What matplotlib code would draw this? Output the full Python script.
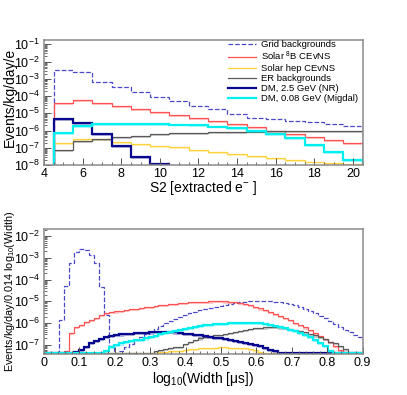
import numpy as np
import matplotlib
matplotlib.use("Agg")
import matplotlib.pyplot as plt
from matplotlib.lines import Line2D
from matplotlib.ticker import MultipleLocator, LogLocator, NullFormatter

plt.rcParams["font.family"] = ["Liberation Sans", "DejaVu Sans"]
plt.rcParams["mathtext.fontset"] = "custom"
plt.rcParams["mathtext.rm"] = "Liberation Sans"
plt.rcParams["mathtext.it"] = "Liberation Sans:italic"
plt.rcParams["mathtext.bf"] = "Liberation Sans:bold"

# ---- top panel: S2 spectrum, 1 e- bins from 4.5 to 20.5 ----
s2_edges = np.arange(4.5, 21.0, 1.0)
s2_grid = [3.2e-3, 2.5e-3, 6.8e-4, 3.2e-4, 1.7e-4, 8.5e-5, 5.3e-5, 2.6e-5,
           1.7e-5, 9.3e-6, 5.6e-6, 4.6e-6, 3.6e-6, 3.0e-6, 2.3e-6, 1.85e-6]
s2_b8 = [3.8e-5, 5.9e-5, 4.0e-5, 2.7e-5, 1.85e-5, 1.25e-5, 8.1e-6, 5.5e-6,
         3.5e-6, 2.3e-6, 1.55e-6, 1.0e-6, 6.5e-7, 4.4e-7, 2.8e-7, 1.8e-7]
s2_hep = [1.8e-7, 3.2e-7, 3.4e-7, 2.1e-7, 1.6e-7, 1.25e-7, 1.05e-7, 7.5e-8,
          5.9e-8, 4.4e-8, 3.4e-8, 2.5e-8, 2.0e-8, 1.6e-8, 1.35e-8, 1.15e-8]
s2_er = [7.4e-8, 2.5e-7, 3.2e-7, 4.1e-7, 4.9e-7, 6.0e-7, 6.8e-7, 7.5e-7,
         8.0e-7, 8.5e-7, 8.8e-7, 9.0e-7, 9.0e-7, 9.0e-7, 9.0e-7, 9.0e-7]
s2_nr = [4.6e-6, 2.6e-6, 6.0e-7, 1.3e-7, 2.8e-8, 1.2e-8, 0, 0,
         0, 0, 0, 0, 0, 0, 0, 0]
s2_migdal = [6.9e-7, 1.9e-6, 2.3e-6, 2.4e-6, 2.4e-6, 2.3e-6, 2.25e-6, 2.1e-6,
             1.7e-6, 1.35e-6, 9.5e-7, 6.0e-7, 3.5e-7, 1.4e-7, 5.9e-8, 2.0e-8]

# ---- bottom panel: log10(width), 64 bins from 0 to 0.9 ----
w_edges = np.linspace(0.0, 0.9, 65)
w_grid = [0, 0, 0, 1.4e-6, 5e-5, 6e-4, 1.9e-3, 2.5e-3,
          2.4e-3, 1.3e-3, 5.6e-4, 4.7e-5, 2.4e-6, 9e-8, 0, 5e-8,
          8e-8, 1.1e-7, 1.6e-7, 2.2e-7, 3e-7, 4e-7, 5.5e-7, 7.5e-7,
          1e-6, 1.3e-6, 1.6e-6, 2e-6, 2.4e-6, 2.8e-6, 3.3e-6, 3.8e-6,
          4.4e-6, 5e-6, 5.6e-6, 6.3e-6, 7e-6, 7.8e-6, 8.5e-6, 9.2e-6,
          9.8e-6, 1.04e-5, 1.05e-5, 1.05e-5, 1.05e-5, 1.02e-5, 9.8e-6, 9.2e-6,
          8.5e-6, 7.6e-6, 6.6e-6, 5.5e-6, 4.6e-6, 3.7e-6, 2.9e-6, 2.2e-6,
          1.7e-6, 1.25e-6, 9e-7, 6.5e-7, 5e-7, 3.8e-7, 2.9e-7, 2.2e-7]
w_b8 = [0, 0, 0, 0, 5e-8, 3.5e-7, 6.5e-7, 8.3e-7,
        1.1e-6, 1.4e-6, 1.8e-6, 2.4e-6, 2.8e-6, 3.1e-6, 3.4e-6, 3.7e-6,
        4.0e-6, 4.3e-6, 4.6e-6, 4.9e-6, 5.3e-6, 5.7e-6, 6.1e-6, 6.5e-6,
        7.0e-6, 7.5e-6, 7.8e-6, 8.1e-6, 8.8e-6, 9.1e-6, 9.4e-6, 9.6e-6,
        9.8e-6, 9.9e-6, 1e-5, 1e-5, 9.9e-6, 9.7e-6, 9.2e-6, 8.5e-6,
        7.6e-6, 6.6e-6, 5.6e-6, 4.7e-6, 3.9e-6, 3.2e-6, 2.6e-6, 2.1e-6,
        1.7e-6, 1.35e-6, 1.05e-6, 8.3e-7, 6.3e-7, 4.8e-7, 3.5e-7, 2.6e-7,
        1.8e-7, 1.3e-7, 9e-8, 6e-8, 4.5e-8, 0, 0, 0]
w_hep = [0] * 21 + [
        4.1e-8, 4.3e-8, 4.6e-8, 4.9e-8, 5.1e-8, 5.3e-8, 5.3e-8,
        5.9e-8, 6.3e-8, 6.6e-8, 6.9e-8, 7.2e-8, 7.4e-8, 7.5e-8, 7.6e-8,
        7.6e-8, 7.5e-8, 7.4e-8, 7.2e-8, 6.9e-8, 6.2e-8, 5.5e-8, 4.9e-8,
        4.4e-8, 4.1e-8] + [0] * 18
w_er = [0] * 21 + [
        4.2e-8, 5e-8, 5.8e-8, 6.6e-8, 7e-8, 7.6e-8, 8.3e-8,
        1.05e-7, 1.35e-7, 1.7e-7, 1.95e-7, 2.2e-7, 2.5e-7, 2.7e-7, 2.9e-7,
        3.2e-7, 3.6e-7, 4e-7, 4.4e-7, 5e-7, 5.5e-7, 5.8e-7, 6e-7,
        6.3e-7, 6.5e-7, 6.5e-7, 6.3e-7, 6e-7, 5.5e-7, 4.9e-7, 4.4e-7,
        3.8e-7, 3.2e-7, 2.7e-7, 2.3e-7, 1.8e-7, 1.4e-7, 1.2e-7, 9e-8,
        6.6e-8, 4.2e-8] + [0] * 2
w_nr = [0] * 6 + [
        4.5e-8, 5.9e-8,
        8.3e-8, 1.2e-7, 1.5e-7, 1.8e-7, 2.2e-7, 2.6e-7, 2.8e-7, 3e-7,
        3.15e-7, 3.3e-7, 3.4e-7, 3.5e-7, 3.6e-7, 3.7e-7, 3.75e-7, 3.8e-7,
        3.8e-7, 3.8e-7, 3.7e-7, 3.5e-7, 3.3e-7, 3.1e-7, 2.9e-7, 2.7e-7,
        2.5e-7, 2.3e-7, 2.1e-7, 2e-7, 1.8e-7, 1.65e-7, 1.5e-7, 1.4e-7,
        1.25e-7, 1.1e-7, 1e-7, 8.5e-8, 7.2e-8, 6e-8, 5e-8, 4.3e-8] + [0] * 16
w_migdal = [0] * 11 + [
        4e-8, 5.2e-8, 7.6e-8, 1e-7, 1.15e-7,
        1.3e-7, 1.45e-7, 1.6e-7, 1.7e-7, 1.95e-7, 2.2e-7, 2.6e-7, 3.2e-7,
        3.6e-7, 3.8e-7, 4.3e-7, 4.9e-7, 5.5e-7, 6.2e-7, 6.9e-7, 7.4e-7,
        8e-7, 8.5e-7, 8.8e-7, 9e-7, 9.5e-7, 1e-6, 1.03e-6, 1.05e-6,
        1.05e-6, 1.04e-6, 1.02e-6, 9.8e-7, 9e-7, 8.3e-7, 7.5e-7, 6.7e-7,
        5.9e-7, 5e-7, 4.2e-7, 3.5e-7, 2.8e-7, 2.2e-7, 1.7e-7, 1.25e-7,
        9e-8, 5e-8] + [0] * 6

labels = ["Grid backgrounds", "Solar $^{8}$B CEvNS", "Solar hep CEvNS",
          "ER backgrounds", "DM, 2.5 GeV (NR)", "DM, 0.08 GeV (Migdal)"]
colors = ["#4848c8", "#ff5252", "#ffd23c", "#5a5a5a", "#08088f", "#00f0f0"]
widths = [0.9, 0.9, 0.9, 0.9, 1.6, 1.6]
styles = ["--", "-", "-", "-", "-", "-"]

fig = plt.figure(figsize=(4.07, 3.95), dpi=100)
ax1 = fig.add_axes([0.108, 0.582, 0.783, 0.318])
ax2 = fig.add_axes([0.108, 0.104, 0.783, 0.316])


def draw(ax, edges, series, floor, band):
    for vals, c, lw, ls in zip(series, colors, widths, styles):
        v = np.clip(np.asarray(vals, dtype=float), floor, None)
        if ls == "-":
            ax.stairs(v, edges, baseline=v * band, fill=True, color=c,
                      alpha=0.3, lw=0)
        ax.stairs(v, edges, baseline=floor, color=c, lw=lw, ls=ls)


draw(ax1, s2_edges, [s2_grid, s2_b8, s2_hep, s2_er, s2_nr, s2_migdal],
     1e-9, 0.78)
draw(ax2, w_edges, [w_grid, w_b8, w_hep, w_er, w_nr, w_migdal],
     4e-8, 0.8)

for ax in (ax1, ax2):
    ax.set_yscale("log")
    for sp in ax.spines.values():
        sp.set_color("#8a8a8a")
        sp.set_linewidth(1.1)
    ax.tick_params(which="both", direction="in", top=False, right=False,
                   colors="#555555", labelcolor="black", labelsize=9)
    ax.tick_params(which="major", length=5, width=0.7)
    ax.tick_params(which="minor", length=2.5, width=0.6)
    ax.yaxis.set_major_locator(LogLocator(base=10, numticks=20))
    ax.yaxis.set_minor_locator(LogLocator(base=10, subs=np.arange(2, 10),
                                          numticks=20))
    ax.yaxis.set_minor_formatter(NullFormatter())
    ax.tick_params(axis="y", pad=3)
    ax.tick_params(axis="x", pad=2)

ax1.set_xlim(4, 20.5)
ax1.set_ylim(1e-8, 0.19)
ax1.xaxis.set_major_locator(MultipleLocator(2))
ax1.xaxis.set_minor_locator(MultipleLocator(0.5))
ax1.set_xlabel("S2 [extracted e$^{-}$ ]", fontsize=10, va="top")
ax1.set_ylabel("Events/kg/day/e", fontsize=10, va="center")
ax1.xaxis.set_label_coords(0.5, -0.11)
ax1.yaxis.set_label_coords(-0.108, 0.54)

ax2.set_xlim(0, 0.9)
ax2.set_ylim(3.8e-8, 2.1e-2)
ax2.set_xticks(np.arange(0, 0.95, 0.1))
ax2.set_xticklabels(["0", "0.1", "0.2", "0.3", "0.4", "0.5", "0.6", "0.7",
                     "0.8", "0.9"])
ax2.xaxis.set_minor_locator(MultipleLocator(0.02))
ax2.set_xlabel("log$_{10}$(Width [μs])", fontsize=10, va="top")
ax2.set_ylabel("Events/kg/day/0.014 log$_{10}$(Width)", fontsize=7.8,
               va="center")
ax2.xaxis.set_label_coords(0.5, -0.125)
ax2.yaxis.set_label_coords(-0.108, 0.5)

handles = [Line2D([], [], color=c, lw=lw, ls=ls)
           for c, lw, ls in zip(colors, widths, styles)]
ax1.legend(handles, labels, loc="upper left", bbox_to_anchor=(0.577, 0.995),
           frameon=False, fontsize=6.8, handlelength=3.0, handletextpad=0.55,
           borderpad=0, borderaxespad=0, labelspacing=0.1)

fig.savefig("out.png", dpi=100)
